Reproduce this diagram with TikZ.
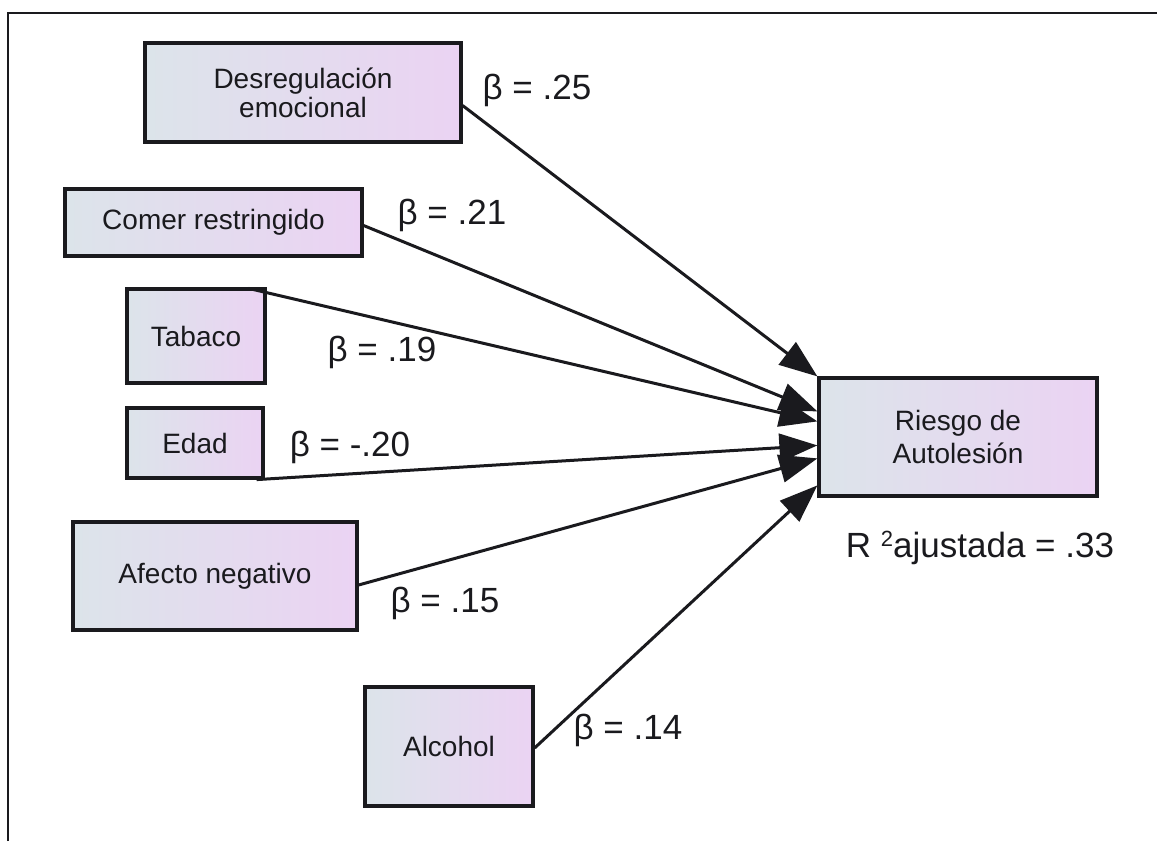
\documentclass[tikz,border=0pt]{standalone}
\usepackage{fontspec}
\setmainfont{Liberation Sans}
\usetikzlibrary{arrows.meta,calc}
\definecolor{boxL}{HTML}{DCE4EA}
\definecolor{boxR}{HTML}{EBD3F3}
\definecolor{ink}{HTML}{1A1A1E}
\tikzset{
  var/.style={draw=ink, line width=3.2pt, left color=boxL, right color=boxR,
    text=ink, align=center, inner sep=0pt,
    font=\fontsize{28}{29}\selectfont},
  path/.style={draw=ink, line width=3pt,
    -{Triangle[length=38pt,width=28pt]}},
  beta/.style={text=ink, inner sep=0pt, font=\fontsize{35}{35}\selectfont}
}
\begin{document}
\begin{tikzpicture}[x=1pt,y=-1pt]
\useasboundingbox (0,0) rectangle (1157,841);
% page frame
\draw[line width=2.2pt, ink] (8,841) -- (8,13) -- (1157,13);

% predictor boxes
\node[var, minimum width=316pt, minimum height=99pt]  (des) at (303,92.5) {Desregulación\\emocional};
\node[var, minimum width=297pt, minimum height=67pt]  (com) at (213.5,222.5) {Comer restringido};
\node[var, minimum width=138pt, minimum height=94pt]  (tab) at (196,336) {Tabaco};
\node[var, minimum width=136pt, minimum height=70pt]  (eda) at (195,443) {Edad};
\node[var, minimum width=284pt, minimum height=108pt] (afe) at (215,576) {Afecto negativo};
\node[var, minimum width=168pt, minimum height=119pt] (alc) at (449,746.5) {Alcohol};

% outcome box
\node[var, minimum width=278pt, minimum height=118pt,
      font=\fontsize{28}{33}\selectfont] (rie) at (958,437) {Riesgo de\\Autolesión};

% paths into the outcome
\draw[path] ($(des.east)+(0,13)$) -- (rie.north west);
\draw[path] ($(com.east)+(0,3)$)  -- ($(rie.north west)+(0,35)$);
\draw[path] ($(tab.north east)+(-18,1)$) -- ($(rie.north west)+(0,45)$);
\draw[path] ($(eda.south east)+(-8,0)$) -- ($(rie.north west)+(0,69)$);
\draw[path] ($(afe.east)+(0,9)$)  -- ($(rie.north west)+(0,82)$);
\draw[path] ($(alc.east)+(0,1.5)$) -- ($(rie.north west)+(0,109)$);

% coefficients
\node[beta] (b1) at (537,90)  {β = .25};
\node[beta] (b2) at (452,215) {β = .21};
\node[beta] (b3) at (382,352) {β = .19};
\node[beta] (b4) at (350,447) {β = -.20};
\node[beta] (b5) at (445,603) {β = .15};
\node[beta] (b6) at (628,730) {β = .14};
\node[beta] (r2) at (980,548) {R \raisebox{0.55ex}{\fontsize{22}{22}\selectfont 2}ajustada = .33};
\end{tikzpicture}
\end{document}
